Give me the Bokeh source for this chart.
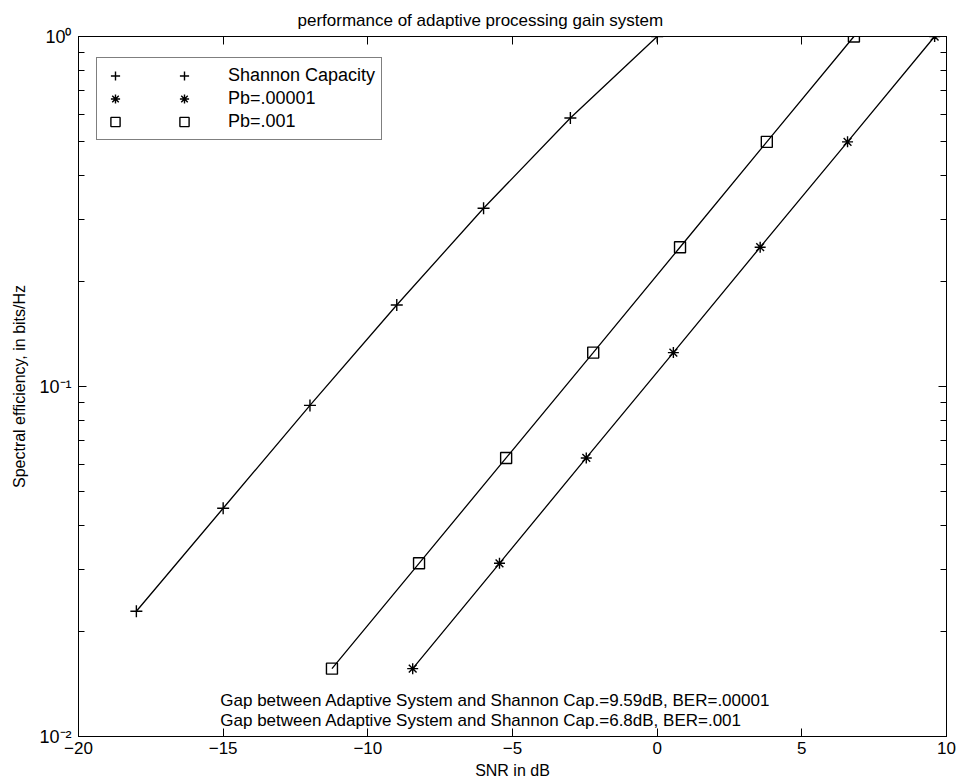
from bokeh.plotting import figure
from bokeh.models import (Range1d, LinearAxis, LogAxis, FixedTicker,
                          CustomJSTickFormatter, Legend, LegendItem, Label)
from bokeh.embed import file_html
from bokeh.resources import INLINE

# Shannon capacity curve: SNR (dB) vs spectral efficiency (bits/s/Hz)
snr_shannon = [-18.0, -15.0, -12.0, -9.0, -6.0, -3.0, 0.0]
eff_shannon = [0.0228, 0.0449, 0.0883, 0.171, 0.323, 0.585, 1.0]

# Adaptive processing gain system, Pb = 1e-5
snr_pb5 = [-8.45, -5.45, -2.45, 0.56, 3.56, 6.58, 9.59]
eff_pb5 = [0.015625, 0.03125, 0.0625, 0.125, 0.25, 0.5, 1.0]

# Adaptive processing gain system, Pb = 1e-3
snr_pb3 = [-11.24, -8.23, -5.22, -2.21, 0.79, 3.79, 6.8]
eff_pb3 = [0.015625, 0.03125, 0.0625, 0.125, 0.25, 0.5, 1.0]

x_ticks = [-20, -15, -10, -5, 0, 5, 10]
x_tick_labels = ["\u221220", "\u221215", "\u221210", "\u22125", "0", "5", "10"]
y_ticks = [0.01, 0.1, 1]
y_tick_labels = ["10\u207b\u00b2", "10\u207b\u00b9", "10\u2070"]
y_minor = [m * 10.0 ** e for e in (-2, -1) for m in range(2, 10)]

series_names = ["Shannon Capacity", "Pb=.00001", "Pb=.001"]
notes = ["Gap between Adaptive System and Shannon Cap.=9.59dB, BER=.00001",
         "Gap between Adaptive System and Shannon Cap.=6.8dB, BER=.001"]

FONT = "Liberation Sans"
FS = "17px"

p = figure(width=961, height=784,
           x_range=Range1d(-20, 10), y_range=Range1d(0.01, 1),
           y_axis_type="log",
           output_backend="svg", toolbar_location=None,
           title="performance of adaptive processing gain system",
           min_border_left=78, min_border_right=15,
           min_border_top=36, min_border_bottom=48)

p.background_fill_color = "white"
p.border_fill_color = "white"
p.outline_line_color = "black"
p.outline_line_width = 1
p.grid.visible = False

p.title.align = "left"
p.title.offset = 219
p.title.standoff = 14
p.title.text_font = FONT
p.title.text_font_size = "17px"
p.title.text_font_style = "normal"
p.title.text_color = "black"

# bottom / left axes
xa = p.xaxis[0]
xa.ticker = FixedTicker(ticks=x_ticks)
xa.major_label_overrides = dict(zip(x_ticks, x_tick_labels))
ya = p.yaxis[0]
ya.ticker = FixedTicker(ticks=y_ticks, minor_ticks=y_minor)
ya.major_label_overrides = dict(zip(y_ticks, y_tick_labels))

xa.axis_label = "SNR in dB"
ya.axis_label = "Spectral efficiency, in bits/Hz"

for ax in (xa, ya):
    ax.axis_line_color = "black"
    ax.major_tick_in = 8
    ax.major_tick_out = 0
    ax.minor_tick_in = 6
    ax.minor_tick_out = 0
    ax.major_tick_line_color = "black"
    ax.minor_tick_line_color = "black"
    ax.major_label_text_font = FONT
    ax.major_label_text_font_size = FS
    ax.major_label_text_color = "black"
    ax.axis_label_text_font = FONT
    ax.axis_label_text_font_size = "16px"
    ax.axis_label_text_font_style = "normal"
    ax.axis_label_text_color = "black"
ya.major_label_text_font_size = "18px"
xa.minor_tick_line_color = None
xa.major_label_standoff = 5
xa.axis_label_standoff = 5
ya.major_label_standoff = 7
ya.axis_label_standoff = 8

# mirrored axes on top and right: tick marks only
blank = CustomJSTickFormatter(code="return ''")
top = LinearAxis(ticker=FixedTicker(ticks=x_ticks), formatter=blank)
right = LogAxis(ticker=FixedTicker(ticks=y_ticks, minor_ticks=y_minor),
                formatter=blank)
for ax in (top, right):
    ax.axis_line_color = "black"
    ax.major_tick_in = 8
    ax.major_tick_out = 0
    ax.minor_tick_in = 6
    ax.minor_tick_out = 0
    ax.major_tick_line_color = "black"
    ax.minor_tick_line_color = "black"
    ax.major_label_text_color = None
    ax.major_label_standoff = 0
top.minor_tick_line_color = None
p.add_layout(top, "above")
p.add_layout(right, "right")

# curves
p.line(snr_shannon, eff_shannon, line_color="black", line_width=1.3)
p.line(snr_pb5, eff_pb5, line_color="black", line_width=1.3)
p.line(snr_pb3, eff_pb3, line_color="black", line_width=1.3)

r_plus = p.scatter(snr_shannon, eff_shannon, marker="cross", size=12,
                   line_color="black", line_width=1.4)
r_star = p.scatter(snr_pb5, eff_pb5, marker="asterisk", size=11,
                   line_color="black", line_width=1.4)
r_sq = p.scatter(snr_pb3, eff_pb3, marker="square", size=11,
                 line_color="black", line_width=1.4, fill_alpha=0)

# two marker columns, then the label
items = [
    LegendItem(label=" ", renderers=[r_plus]),
    LegendItem(label=" ", renderers=[r_star]),
    LegendItem(label=" ", renderers=[r_sq]),
    LegendItem(label=series_names[0], renderers=[r_plus]),
    LegendItem(label=series_names[1], renderers=[r_star]),
    LegendItem(label=series_names[2], renderers=[r_sq]),
]
legend = Legend(items=items, ncols=2, location=(18, 596),
                orientation="vertical",
                glyph_width=24, glyph_height=23, label_height=23,
                label_width=13, label_standoff=32, spacing=0, padding=6,
                margin=0,
                label_text_font=FONT, label_text_font_size="18px",
                label_text_color="black",
                border_line_color="black", border_line_width=1,
                background_fill_color="white", background_fill_alpha=1)
p.add_layout(legend)

# annotations near the bottom of the axes
for txt, yv in zip(notes, [0.01267, 0.01111]):
    p.add_layout(Label(x=-15.1, y=yv, text=txt, text_font=FONT,
                       text_font_size=FS, text_color="black",
                       text_baseline="middle", text_align="left"))

open("out.html", "w").write(file_html(p, INLINE))
